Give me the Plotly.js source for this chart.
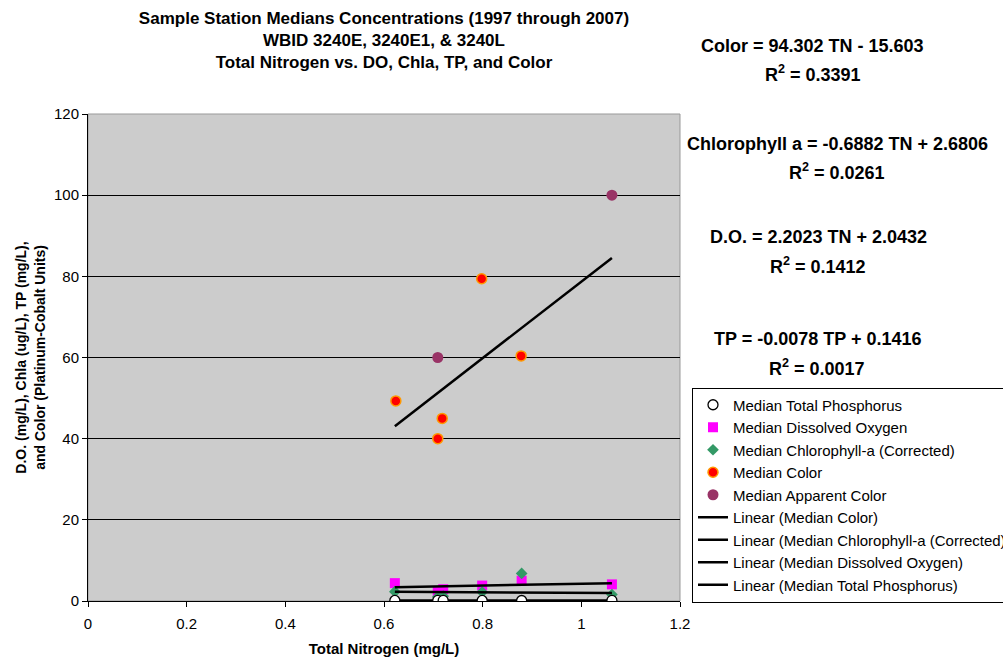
<!DOCTYPE html>
<html>
<head>
<meta charset="utf-8">
<script src="https://cdn.plot.ly/plotly-3.0.1.min.js"></script>
<style>html,body{margin:0;padding:0;background:#fff;}#chart{width:1003px;height:658px;}</style>
</head>
<body>
<div id="chart"></div>
<script>
// ---- data ----
var tn = [0.622, 0.709, 0.720, 0.799, 0.879, 1.062];          // Total Nitrogen (mg/L)
var tpMedian = [0.13, 0.15, 0.14, 0.13, 0.12, 0.14];          // Median Total Phosphorus
var doMedian = [4.4, 2.2, 2.9, 3.8, 5.0, 4.1];                // Median Dissolved Oxygen
var chlaMedian = [2.3, 1.0, 1.2, 2.2, 6.8, 1.6];              // Median Chlorophyll-a (Corrected)
var tnColor = [0.624, 0.709, 0.718, 0.798, 0.878];
var colorMedian = [49.3, 40.0, 45.0, 79.4, 60.4];             // Median Color
var tnApparent = [0.709, 1.062];
var apparentColor = [60, 100];                                // Median Apparent Color
// trendline coefficients (from the equations printed on the chart)
var trendNames = ["Linear (Median Color)", "Linear (Median Chlorophyll-a (Corrected))", "Linear (Median Dissolved Oxygen)", "Linear (Median Total Phosphorus)"];
var trendSlope = [94.302, -0.6882, 2.2023, -0.0078];
var trendIntercept = [-15.603, 2.6806, 2.0432, 0.1416];
var eqLines = ["Color = 94.302 TN - 15.603", "R<sup>2</sup> = 0.3391",
               "Chlorophyll a = -0.6882 TN + 2.6806", "R<sup>2</sup> = 0.0261",
               "D.O. = 2.2023 TN + 2.0432", "R<sup>2</sup> = 0.1412",
               "TP = -0.0078 TP + 0.1416", "R<sup>2</sup> = 0.0017"];
var xTicks = [0, 0.2, 0.4, 0.6, 0.8, 1, 1.2];
var yTicks = [0, 20, 40, 60, 80, 100, 120];

// ---- layout geometry ----
var W = 1003, H = 658, L = 88, R = 680, T = 114, B = 601;
function px(x){ return (x - L) / (R - L); }
function py(y){ return (B - y) / (B - T); }
var FONT = "Liberation Sans, Arial, sans-serif";

var xmin = Math.min.apply(null, tn), xmax = Math.max.apply(null, tn);
function trend(i){
  return {
    x: [xmin, xmax],
    y: [trendSlope[i]*xmin + trendIntercept[i], trendSlope[i]*xmax + trendIntercept[i]],
    mode: "lines", type: "scatter", name: trendNames[i],
    line: {color: "#000", width: 2.5}, legendrank: 6 + i, hoverinfo: "skip"
  };
}

var data = [
  {x: tn, y: doMedian, mode: "markers", type: "scatter", name: "Median Dissolved Oxygen",
   marker: {symbol: "square", size: 10, color: "#FF00FF"}, legendrank: 2},
  {x: tn, y: chlaMedian, mode: "markers", type: "scatter", name: "Median Chlorophyll-a (Corrected)",
   marker: {symbol: "diamond", size: 9, color: "#339966"}, legendrank: 3},
  {x: tnColor, y: colorMedian, mode: "markers", type: "scatter", name: "Median Color",
   marker: {symbol: "circle", size: 10, color: "#FF0000", line: {color: "#FF9900", width: 1.5}}, legendrank: 4},
  {x: tnApparent, y: apparentColor, mode: "markers", type: "scatter", name: "Median Apparent Color",
   marker: {symbol: "circle", size: 11, color: "#993366"}, legendrank: 5},
  trend(0), trend(1), trend(2), trend(3),
  {x: tn, y: tpMedian, mode: "markers", type: "scatter", name: "Median Total Phosphorus",
   marker: {symbol: "circle", size: 10, color: "#ffffff", line: {color: "#000", width: 1.3}}, legendrank: 1}
];

var eqPos = [[813,46],[813,74],[837,144],[837,171],[818,237],[818,265],[817,339],[817,367]];
var annotations = eqLines.map(function(t, i){
  return {text: t, xref: "paper", yref: "paper", x: px(eqPos[i][0]), y: py(eqPos[i][1]),
          xanchor: "center", yanchor: "middle", showarrow: false,
          font: {family: FONT, size: 18, color: "#000", weight: "bold"}};
});

var layout = {
  width: W, height: H,
  margin: {l: L, r: W - R, t: T, b: H - B, autoexpand: false},
  paper_bgcolor: "#ffffff", plot_bgcolor: "#cccccc",
  font: {family: FONT, color: "#000"},
  title: {text: "Sample Station Medians Concentrations (1997 through 2007)<br>WBID 3240E, 3240E1, & 3240L<br>Total Nitrogen vs. DO, Chla, TP, and Color",
          xref: "paper", x: 0.5, xanchor: "center", yref: "container", y: 1 - 24/H, yanchor: "top",
          font: {family: FONT, size: 17, color: "#000", weight: "bold"}},
  xaxis: {range: [0, 1.2], tickvals: xTicks, ticktext: xTicks.map(String), ticks: "outside", ticklen: 5, tickcolor: "#000",
          showline: true, linecolor: "#000", linewidth: 1, showgrid: false, zeroline: false, ticklabelstandoff: 4,
          tickfont: {family: FONT, size: 15, color: "#000"},
          title: {text: "Total Nitrogen (mg/L)", font: {family: FONT, size: 15, weight: "bold"}, standoff: 12}},
  yaxis: {range: [0, 120], tickvals: yTicks, ticks: "outside", ticklen: 5, tickcolor: "#000",
          showline: true, linecolor: "#000", linewidth: 1, showgrid: true, gridcolor: "#000", gridwidth: 1, zeroline: false,
          tickfont: {family: FONT, size: 15, color: "#000"},
          title: {text: "D.O. (mg/L), Chla (ug/L), TP (mg/L),<br>and Color (Platinum-Cobalt Units)", font: {family: FONT, size: 14, weight: "bold"}, standoff: 5}},
  shapes: [{type: "rect", xref: "paper", yref: "paper", x0: 0, x1: 1, y0: 0, y1: 1, line: {color: "#999", width: 1}, layer: "below"}],
  showlegend: true,
  legend: {x: px(692), y: py(387.5), xanchor: "left", yanchor: "top", bgcolor: "#fff", bordercolor: "#000", borderwidth: 1,
           font: {family: FONT, size: 15, color: "#000"}, traceorder: "normal"},
  annotations: annotations
};

Plotly.newPlot("chart", data, layout, {displayModeBar: false, staticPlot: true});
</script>
</body>
</html>
